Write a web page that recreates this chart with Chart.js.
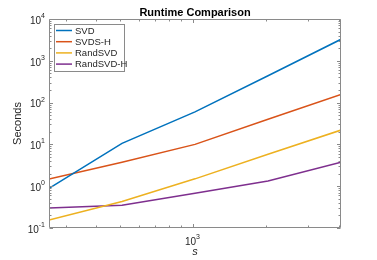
<!DOCTYPE html>
<html>
<head>
<meta charset="utf-8">
<script src="https://cdn.jsdelivr.net/npm/chart.js@4/dist/chart.umd.min.js"></script>
<style>
html,body{margin:0;padding:0;background:#fff;}
canvas{display:block;}
</style>
</head>
<body>
<canvas id="c" width="377" height="260"></canvas>
<script>
const sizes = [256, 512, 1024, 2048, 4096];
const seriesNames = ['SVD', 'SVDS-H', 'RandSVD', 'RandSVD-H'];
const svd = [0.89, 10.6, 60, 440, 3270];
const svdsH = [1.48, 3.73, 10, 40, 157];
const randSvd = [0.155, 0.43, 1.5, 5.8, 22];
const randSvdH = [0.30, 0.35, 0.68, 1.33, 3.75];
const yTickExps = [-1, 0, 1, 2, 3, 4];
const xTickExps = [3];
const titleText = 'Runtime Comparison';
const yLabel = 'Seconds';
const xLabel = 's';

const colors = ['#0072BD', '#D95319', '#EDB120', '#7E2F8E'];
const allSeries = [svd, svdsH, randSvd, randSvdH];
const FONT = "'Liberation Sans', Arial, Helvetica, sans-serif";
const TXT = '#262626';
const AX = '#8a8a8a';

const datasets = allSeries.map((vals, i) => ({
  label: seriesNames[i],
  data: vals.map((v, j) => ({x: sizes[j], y: v})),
  borderColor: colors[i],
  backgroundColor: colors[i],
  borderWidth: 1.5,
  pointRadius: 0,
  tension: 0,
  fill: false
}));

function drawPow(ctx, x, y, exp, align) {
  const baseFont = '10px ' + FONT;
  const expFont = '7px ' + FONT;
  ctx.font = baseFont;
  const bw = ctx.measureText('10').width;
  ctx.font = expFont;
  const es = String(exp).replace('-', '\u2212') === String(exp) ? String(exp) : '-' + Math.abs(exp);
  const ew = ctx.measureText(es).width;
  const total = bw + ew;
  let x0;
  if (align === 'right') x0 = x - total;
  else x0 = x - total / 2;
  ctx.fillStyle = TXT;
  ctx.textAlign = 'left';
  ctx.textBaseline = 'middle';
  ctx.font = baseFont;
  ctx.fillText('10', x0, y + 2);
  ctx.font = expFont;
  ctx.fillText(es, x0 + bw, y - 3);
}

const matlabAxes = {
  id: 'matlabAxes',
  afterDraw(chart) {
    const ctx = chart.ctx;
    const a = chart.chartArea;
    const xs = chart.scales.x, ys = chart.scales.y;
    ctx.save();
    // box
    ctx.strokeStyle = AX;
    ctx.lineWidth = 1;
    const L = Math.round(a.left) + 0.5, R = Math.round(a.right) - 0.5;
    const T = Math.round(a.top) + 0.5, B = Math.round(a.bottom) - 0.5;
    ctx.beginPath();
    ctx.rect(L, T, R - L, B - T);
    ctx.stroke();
    // y ticks
    ctx.beginPath();
    for (let e = yTickExps[0]; e <= yTickExps[yTickExps.length - 1]; e++) {
      const yy = Math.round(ys.getPixelForValue(Math.pow(10, e))) + 0.5;
      ctx.moveTo(L, yy); ctx.lineTo(L + 3.5, yy);
      ctx.moveTo(R, yy); ctx.lineTo(R - 3.5, yy);
      if (e < yTickExps[yTickExps.length - 1]) {
        for (let m = 2; m <= 9; m++) {
          const ym = Math.round(ys.getPixelForValue(m * Math.pow(10, e))) + 0.5;
          ctx.moveTo(L, ym); ctx.lineTo(L + 2, ym);
          ctx.moveTo(R, ym); ctx.lineTo(R - 2, ym);
        }
      }
    }
    // x ticks
    const xmin = xs.min, xmax = xs.max;
    for (let e = 2; e <= 3; e++) {
      for (let m = 1; m <= 9; m++) {
        const v = m * Math.pow(10, e);
        if (v < xmin || v > xmax) continue;
        const xx = Math.round(xs.getPixelForValue(v)) + 0.5;
        const len = (m === 1) ? 3.5 : 2;
        ctx.moveTo(xx, B); ctx.lineTo(xx, B - len);
        ctx.moveTo(xx, T); ctx.lineTo(xx, T + len);
      }
    }
    ctx.stroke();
    // y tick labels
    yTickExps.forEach(e => {
      const yy = ys.getPixelForValue(Math.pow(10, e));
      drawPow(ctx, a.left - 4, yy, e, 'right');
    });
    // x tick labels
    xTickExps.forEach(e => {
      const xx = xs.getPixelForValue(Math.pow(10, e));
      drawPow(ctx, xx, a.bottom + 12, e, 'center');
    });
    // title
    ctx.fillStyle = '#000';
    ctx.font = 'bold 11px ' + FONT;
    ctx.textAlign = 'center';
    ctx.textBaseline = 'alphabetic';
    ctx.fillText(titleText, (a.left + a.right) / 2, 15.5);
    // x label
    ctx.fillStyle = TXT;
    ctx.font = 'italic 11px ' + FONT;
    ctx.textBaseline = 'middle';
    ctx.fillText(xLabel, (a.left + a.right) / 2, 252);
    // y label
    ctx.save();
    ctx.translate(18, (a.top + a.bottom) / 2);
    ctx.rotate(-Math.PI / 2);
    ctx.font = '11px ' + FONT;
    ctx.textAlign = 'center';
    ctx.textBaseline = 'middle';
    ctx.fillText(yLabel, 0, 0);
    ctx.restore();
    // legend
    const lx = Math.round(a.left) + 5, ly = Math.round(a.top) + 5;
    const lw = 71, lh = 48;
    ctx.fillStyle = '#fff';
    ctx.fillRect(lx, ly, lw, lh);
    ctx.strokeStyle = AX;
    ctx.lineWidth = 1;
    ctx.strokeRect(lx + 0.5, ly + 0.5, lw - 1, lh - 1);
    ctx.font = '9.5px ' + FONT;
    ctx.textAlign = 'left';
    ctx.textBaseline = 'middle';
    chart.data.datasets.forEach((ds, i) => {
      const ry = ly + 6.5 + i * 11.2;
      ctx.strokeStyle = ds.borderColor;
      ctx.lineWidth = 1.5;
      ctx.beginPath();
      ctx.moveTo(lx + 2, ry); ctx.lineTo(lx + 18, ry);
      ctx.stroke();
      ctx.fillStyle = TXT;
      ctx.fillText(ds.label, lx + 21, ry + 0.5);
    });
    ctx.restore();
  }
};

new Chart(document.getElementById('c'), {
  type: 'line',
  data: { datasets },
  options: {
    responsive: false,
    animation: false,
    events: [],
    layout: { padding: { left: 0, top: 19, right: 36, bottom: 0 } },
    plugins: { legend: { display: false }, title: { display: false }, tooltip: { enabled: false } },
    scales: {
      x: {
        type: 'logarithmic', min: sizes[0], max: sizes[sizes.length - 1],
        grid: { display: false }, border: { display: false },
        ticks: { display: false },
        afterFit(s) { s.height = 32; }
      },
      y: {
        type: 'logarithmic', min: 0.1, max: 10000,
        grid: { display: false }, border: { display: false },
        ticks: { display: false },
        afterFit(s) { s.width = 49; }
      }
    }
  },
  plugins: [matlabAxes]
});
</script>
</body>
</html>
